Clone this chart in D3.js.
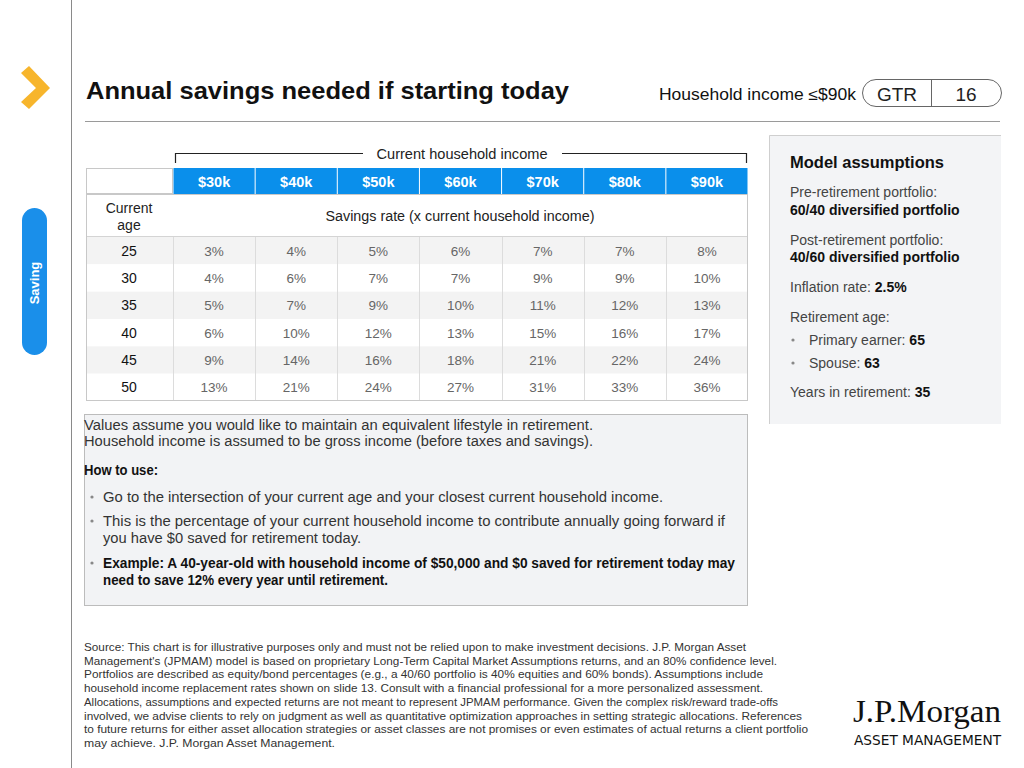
<!DOCTYPE html>
<html><head><meta charset="utf-8">
<script src="https://cdn.jsdelivr.net/npm/d3@7"></script>
<style>
html,body{margin:0;padding:0;background:#fff;}
svg{display:block;font-family:"Liberation Sans",Arial,sans-serif;}
</style></head>
<body><svg id="c" width="1024" height="768"></svg>
<script>
const incomes = ["$30k","$40k","$50k","$60k","$70k","$80k","$90k"];
const ages = [25,30,35,40,45,50];
const rate25 = [3,4,5,6,7,7,8];
const rate30 = [4,6,7,7,9,9,10];
const rate35 = [5,7,9,10,11,12,13];
const rate40 = [6,10,12,13,15,16,17];
const rate45 = [9,14,16,18,21,22,24];
const rate50 = [13,21,24,27,31,33,36];
const rates = [rate25,rate30,rate35,rate40,rate45,rate50];

const assumptions = [
  {y:192, parts:[["Pre-retirement portfolio:",400]]},
  {y:210, parts:[["60/40 diversified portfolio",600]]},
  {y:240, parts:[["Post-retirement portfolio:",400]]},
  {y:257, parts:[["40/60 diversified portfolio",600]]},
  {y:287, parts:[["Inflation rate: ",400],["2.5%",600]]},
  {y:317, parts:[["Retirement age:",400]]},
  {y:340, bullet:true, parts:[["Primary earner: ",400],["65",600]]},
  {y:363, bullet:true, parts:[["Spouse: ",400],["63",600]]},
  {y:392, parts:[["Years in retirement: ",400],["35",600]]}
];
const noteLines = [
  {y:425, x:84, w:400, len:509, t:"Values assume you would like to maintain an equivalent lifestyle in retirement."},
  {y:441, x:84, w:400, len:509, t:"Household income is assumed to be gross income (before taxes and savings)."},
  {y:470, x:84, w:600, len:74, t:"How to use:"},
  {y:497, x:103, w:400, len:560, b:true, t:"Go to the intersection of your current age and your closest current household income."},
  {y:521, x:103, w:400, len:622, b:true, t:"This is the percentage of your current household income to contribute annually going forward if"},
  {y:538, x:103, w:400, len:258, t:"you have $0 saved for retirement today."},
  {y:563, x:103, w:600, len:632, b:true, t:"Example: A 40-year-old with household income of $50,000 and $0 saved for retirement today may"},
  {y:580, x:103, w:600, len:285, t:"need to save 12% every year until retirement."}
];
const sourceLines = [
  "Source: This chart is for illustrative purposes only and must not be relied upon to make investment decisions. J.P. Morgan Asset",
  "Management's (JPMAM) model is based on proprietary Long-Term Capital Market Assumptions returns, and an 80% confidence level.",
  "Portfolios are described as equity/bond percentages (e.g., a 40/60 portfolio is 40% equities and 60% bonds). Assumptions include",
  "household income replacement rates shown on slide 13. Consult with a financial professional for a more personalized assessment.",
  "Allocations, assumptions and expected returns are not meant to represent JPMAM performance. Given the complex risk/reward trade-offs",
  "involved, we advise clients to rely on judgment as well as quantitative optimization approaches in setting strategic allocations. References",
  "to future returns for either asset allocation strategies or asset classes are not promises or even estimates of actual returns a client portfolio",
  "may achieve. J.P. Morgan Asset Management."
];
const sourceWidths = [662,693,679,679,694,718,724,251];

const svg = d3.select("#c");

// left rail
svg.append("line").attr("x1",71.5).attr("x2",71.5).attr("y1",0).attr("y2",768).attr("stroke","#8a8a8a").attr("stroke-width",1);
svg.append("path").attr("d","M21,73 L29,66 L50,88 L29,109 L21,102 L36,88 Z").attr("fill","#F7B52C");
svg.append("rect").attr("x",22).attr("y",208).attr("width",25).attr("height",147).attr("rx",12.5).attr("fill","#1A8FEA");
svg.append("text").attr("transform","translate(39,283) rotate(-90)").attr("text-anchor","middle")
  .attr("fill","#fff").attr("font-size",13).attr("font-weight",700).text("Saving");

// title
svg.append("text").attr("x",86).attr("y",99).attr("font-size",24).attr("font-weight",700).attr("fill","#111")
  .attr("textLength",483).attr("lengthAdjust","spacingAndGlyphs")
  .text("Annual savings needed if starting today");
svg.append("line").attr("x1",85).attr("x2",1000).attr("y1",121.5).attr("y2",121.5).attr("stroke","#9a9a9a");

svg.append("text").attr("x",659).attr("y",100).attr("font-size",16).attr("fill","#111")
  .attr("textLength",197).attr("lengthAdjust","spacingAndGlyphs").text("Household income ≤$90k");
svg.append("rect").attr("x",862.5).attr("y",79.5).attr("width",139).attr("height",27).attr("rx",13.5)
  .attr("fill","#fff").attr("stroke","#666");
svg.append("line").attr("x1",931.5).attr("x2",931.5).attr("y1",80).attr("y2",106).attr("stroke","#666");
svg.append("text").attr("x",897).attr("y",101).attr("text-anchor","middle").attr("font-size",19).attr("fill","#222").text("GTR");
svg.append("text").attr("x",966).attr("y",101).attr("text-anchor","middle").attr("font-size",19).attr("fill","#222").text("16");

// table scales
const x = d3.scaleBand().domain(incomes).range([173,748]).paddingInner(0);
const y = d3.scaleBand().domain(ages).range([237,401]);
const tbl = svg.append("g");

// bracket
tbl.append("path").attr("d",`M175.5,163 V153.5 H363 M562,153.5 H746.5 V163`).attr("fill","none").attr("stroke","#222").attr("stroke-width",1.2);
tbl.append("text").attr("x",462).attr("y",159).attr("text-anchor","middle").attr("font-size",14).attr("fill","#222")
  .attr("textLength",171).attr("lengthAdjust","spacingAndGlyphs").text("Current household income");

// rows background
tbl.selectAll("rect.row").data(ages).join("rect").attr("class","row")
  .attr("x",86).attr("y",d=>y(d)).attr("width",662).attr("height",y.bandwidth())
  .attr("fill",(d,i)=>i%2===0?"#F3F3F3":"#fff");
// vertical separators in data area
tbl.selectAll("line.vsep").data(incomes).join("line").attr("class","vsep")
  .attr("x1",d=>Math.round(x(d))+0.5).attr("x2",d=>Math.round(x(d))+0.5).attr("y1",237).attr("y2",401)
  .attr("stroke","#dcdcdc");
// header
tbl.append("rect").attr("x",86.5).attr("y",168.5).attr("width",86).attr("height",25).attr("fill","#fff").attr("stroke","#c8c8c8");
tbl.selectAll("rect.hdr").data(incomes).join("rect").attr("class","hdr")
  .attr("x",d=>x(d)+0.5).attr("y",168).attr("width",x.bandwidth()-1).attr("height",26).attr("fill","#0A8FEB");
tbl.selectAll("text.hdr").data(incomes).join("text").attr("class","hdr")
  .attr("x",d=>x(d)+x.bandwidth()/2).attr("y",187).attr("text-anchor","middle").attr("fill","#fff")
  .attr("font-size",14.5).attr("font-weight",700).text(d=>d);
// subheader
tbl.append("line").attr("x1",86).attr("x2",748).attr("y1",236.5).attr("y2",236.5).attr("stroke","#d4d4d4");
tbl.append("text").attr("x",129).attr("y",213).attr("text-anchor","middle").attr("font-size",14).attr("fill","#222").text("Current");
tbl.append("text").attr("x",129).attr("y",230).attr("text-anchor","middle").attr("font-size",14).attr("fill","#222").text("age");
tbl.append("text").attr("x",460).attr("y",221).attr("text-anchor","middle").attr("font-size",14).attr("fill","#222")
  .attr("textLength",269).attr("lengthAdjust","spacingAndGlyphs").text("Savings rate (x current household income)");
// outer border
tbl.append("rect").attr("x",86.5).attr("y",194.5).attr("width",661).attr("height",206).attr("fill","none").attr("stroke","#c8c8c8");

// cells
const rowsG = tbl.selectAll("g.r").data(ages).join("g").attr("class","r");
rowsG.append("text").attr("x",129).attr("y",d=>y(d)+y.bandwidth()/2+5).attr("text-anchor","middle")
  .attr("font-size",14).attr("fill","#111").text(d=>d);
rowsG.selectAll("text.v").data((d,i)=>rates[i].map((v,j)=>({v,inc:incomes[j]}))).join("text").attr("class","v")
  .attr("x",d=>x(d.inc)+x.bandwidth()/2)
  .attr("y",function(){const a=d3.select(this.parentNode).datum();return y(a)+y.bandwidth()/2+5;})
  .attr("text-anchor","middle").attr("font-size",13.5).attr("fill","#666").text(d=>d.v+"%");

// note box
svg.append("rect").attr("x",84.5).attr("y",414.5).attr("width",663).attr("height",191).attr("fill","#F2F3F5").attr("stroke","#bcbcbc");
noteLines.forEach(l=>{
  if(l.b) svg.append("circle").attr("cx",92).attr("cy",l.y).attr("r",1.6).attr("fill","#888");
  svg.append("text").attr("x",l.x).attr("y",l.y+5).attr("font-size",14).attr("font-weight",l.w>400?700:400)
    .attr("fill",l.w>400?"#111":"#333").attr("textLength",l.len).attr("lengthAdjust","spacingAndGlyphs").text(l.t);
});

// assumptions box
svg.append("rect").attr("x",769).attr("y",135).attr("width",232).attr("height",289).attr("fill","#F3F4F6");
svg.append("path").attr("d","M769.5,424 V135.5 H1001").attr("fill","none").attr("stroke","#cfcfcf");
svg.append("text").attr("x",790).attr("y",168).attr("font-size",16.5).attr("font-weight",600).attr("fill","#111").text("Model assumptions");
assumptions.forEach(a=>{
  const xx = a.bullet?809:790;
  if(a.bullet) svg.append("circle").attr("cx",793).attr("cy",a.y).attr("r",1.6).attr("fill","#888");
  const t = svg.append("text").attr("x",xx).attr("y",a.y+5).attr("font-size",14);
  a.parts.forEach(p=>t.append("tspan").attr("font-weight",p[1]>400?700:400).attr("fill",p[1]>400?"#111":"#444").text(p[0]));
});

// source
sourceLines.forEach((s,i)=>{
  svg.append("text").attr("x",84).attr("y",651+i*13.7).attr("font-size",11).attr("fill","#333")
    .attr("textLength",sourceWidths[i]).attr("lengthAdjust","spacingAndGlyphs").text(s);
});

// logo
svg.append("text").attr("x",853).attr("y",722).attr("font-family",'"Liberation Serif","DejaVu Serif",serif').attr("font-size",32)
  .attr("fill","#111").attr("textLength",148).attr("lengthAdjust","spacingAndGlyphs").text("J.P.Morgan");
svg.append("text").attr("x",854).attr("y",745).attr("font-family",'"DejaVu Sans",sans-serif').attr("font-size",13.5)
  .attr("fill","#111").attr("textLength",147).attr("lengthAdjust","spacingAndGlyphs").text("ASSET MANAGEMENT");
</script></body></html>
